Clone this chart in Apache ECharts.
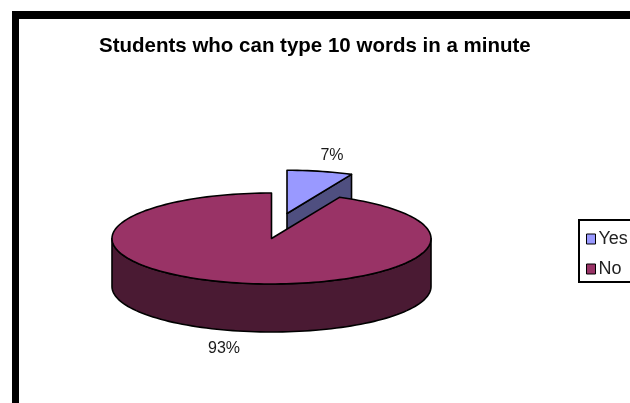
<!DOCTYPE html>
<html>
<head>
<meta charset="utf-8">
<style>html,body{margin:0;padding:0;background:#fff}#c{width:630px;height:403px}</style>
<script src="https://cdn.jsdelivr.net/npm/echarts@6/dist/echarts.min.js"></script>
</head>
<body>
<div id="c"></div>
<script>
var titleText = 'Students who can type 10 words in a minute';
var categories = ['Yes', 'No'];
var values = [7, 93];
var colors = ['#9999ff', '#993366'];
var sideColors = ['#4f4f80', '#4a1a33'];

var total = values[0] + values[1];
var CX = 271.5, CY = 238.5, RX = 159.5, RY = 45.5, DEPTH = 48;

function rim(a, cx, cy, k) {
  var t = a * Math.PI / 180;
  return [cx + RX * k * Math.sin(t), cy - RY * k * Math.cos(t)];
}
function arc(a0, a1, cx, cy, k) {
  var pts = [], n = Math.max(2, Math.ceil(Math.abs(a1 - a0) / 2));
  for (var i = 0; i <= n; i++) pts.push(rim(a0 + (a1 - a0) * i / n, cx, cy, k));
  return pts;
}
function poly(points, fill) {
  return { type: 'polygon', shape: { points: points },
    style: { fill: fill, stroke: '#000', lineWidth: 1.6, lineJoin: 'round' } };
}
function label(text, x, y) {
  return { type: 'text', style: { text: text, x: x, y: y, fill: '#1a1a1a',
    font: '16px "Liberation Sans", Arial, sans-serif', align: 'center', verticalAlign: 'middle' } };
}
function pct(v) { return Math.round(v / total * 100) + '%'; }

function renderYes(params, api) {
  var v = api.value(0), end = v / total * 360;
  var ox = CX + 15.5, oy = CY - 25, k = 0.95;
  var e = rim(end, ox, oy, k);
  return { type: 'group', children: [
    poly([[ox, oy], e, [e[0], e[1] + DEPTH], [ox, oy + DEPTH]], sideColors[0]),
    poly([[ox, oy]].concat(arc(0, end, ox, oy, k)), colors[0]),
    label(pct(v), 332, 156)
  ] };
}
function renderNo(params, api) {
  var v = api.value(0), start = (total - v) / total * 360;
  var front = arc(90, 270, CX, CY, 1);
  var down = front.slice().reverse().map(function (p) { return [p[0], p[1] + DEPTH]; });
  return { type: 'group', children: [
    poly(front.concat(down), sideColors[1]),
    poly([[CX, CY]].concat(arc(start, 360, CX, CY, 1)), colors[1]),
    label(pct(v), 224, 349)
  ] };
}

var chart = echarts.init(document.getElementById('c'), null, { renderer: 'canvas' });
chart.setOption({
  animation: false,
  backgroundColor: '#fff',
  color: colors,
  title: { text: titleText, left: 99, top: 36, padding: 0,
    textStyle: { fontFamily: '"Liberation Sans", Arial, sans-serif', fontSize: 20.5, fontWeight: 'bold', color: '#000' } },
  legend: { orient: 'vertical', left: 579, top: 220, selectedMode: false, data: categories,
    icon: 'rect', padding: [10, 8, 4, 7], itemGap: 12, itemWidth: 9, itemHeight: 10,
    borderColor: '#000', borderWidth: 2, backgroundColor: '#fff',
    itemStyle: { borderColor: '#000', borderWidth: 1 },
    textStyle: { fontFamily: '"Liberation Sans", Arial, sans-serif', fontSize: 18, color: '#222', padding: [0, 0, 0, -2] } },
  graphic: [
    { type: 'rect', shape: { x: 12, y: 11, width: 7, height: 392 }, style: { fill: '#000' } },
    { type: 'rect', shape: { x: 12, y: 11, width: 618, height: 8 }, style: { fill: '#000' } }
  ],
  series: [
    { type: 'custom', name: categories[0], coordinateSystem: 'none', renderItem: renderYes,
      data: [[values[0]]], itemStyle: { color: colors[0] }, silent: true },
    { type: 'custom', name: categories[1], coordinateSystem: 'none', renderItem: renderNo,
      data: [[values[1]]], itemStyle: { color: colors[1] }, silent: true }
  ]
});
</script>
</body>
</html>
